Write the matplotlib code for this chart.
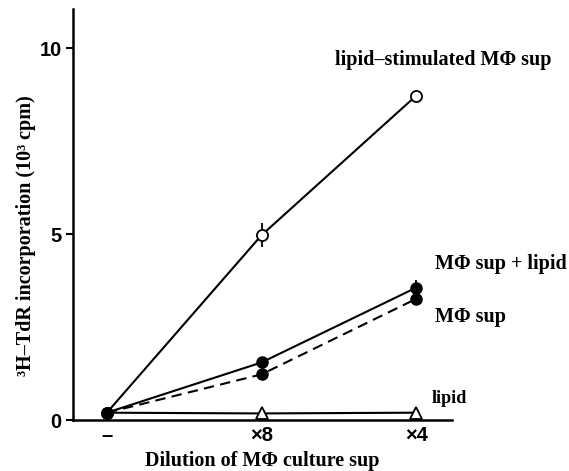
import matplotlib.pyplot as plt

# dilution categories on the x axis
dilutions = ["\u2013", "\u00d78", "\u00d74"]

# 3H-TdR incorporation (10^3 cpm)
lipid_stim_sup = [0.2, 4.97, 8.72]
lipid_stim_err = [0.0, 0.32, 0.0]
sup_plus_lipid = [0.2, 1.55, 3.56]
sup_plus_lipid_err = [0.0, 0.0, 0.2]
sup_only = [0.2, 1.23, 3.26]
lipid_only = [0.2, 0.18, 0.2]

SERIF = ["Liberation Serif", "DejaVu Serif"]
SANS = ["Liberation Sans", "DejaVu Sans"]

fig = plt.figure(figsize=(5.69, 4.71), dpi=100)
ax = fig.add_axes([0.128, 0.108, 0.666, 0.873])

x = list(range(len(dilutions)))
kw = dict(color="black", lw=1.5, markersize=8, clip_on=False, zorder=3)

ax.errorbar(x, lipid_stim_sup, yerr=lipid_stim_err, fmt="-o", mfc="white",
            mec="black", mew=1.3, capsize=0, elinewidth=1.3, **kw)
ax.errorbar(x, sup_plus_lipid, yerr=sup_plus_lipid_err, fmt="-o", mfc="black",
            capsize=0, elinewidth=1.3, **kw)
ax.plot(x, sup_only, "--o", mfc="black", dashes=(5, 3), **kw)
ax.plot(x[1:], lipid_only[1:], "^", mfc="white", mec="black", mew=1.3,
        color="black", markersize=8, clip_on=False, zorder=3)
ax.plot(x, lipid_only, "-", color="black", lw=1.5, zorder=2)

ax.set_xlim(-0.22, 2.23)
ax.set_ylim(0, 11.05)
ax.spines["top"].set_visible(False)
ax.spines["right"].set_visible(False)
ax.spines["left"].set_linewidth(1.8)
ax.spines["bottom"].set_linewidth(1.8)

ax.set_yticks([0, 5, 10])
ax.set_yticklabels(["0", "5", "10"], family=SANS, fontweight="bold", fontsize=14.5)
ax.tick_params(axis="y", direction="out", length=5, width=1.5, pad=3)
ax.set_xticks(x)
ax.set_xticklabels(dilutions, family=SANS, fontweight="bold", fontsize=14.5)
ax.tick_params(axis="x", length=0, pad=4)

fig.text(26 / 569, 1 - 236 / 471,
         "\u00b3H\u2013TdR incorporation (10\u00b3 cpm)", family=SERIF,
         fontweight="bold", fontsize=14.5, rotation=90, ha="center", va="center")
fig.text(262 / 569, 1 - 461 / 471, "Dilution of M\u03a6 culture sup",
         family=SERIF, fontweight="bold", fontsize=14.5, ha="center", va="center")

lab = dict(family=SERIF, fontweight="bold", fontsize=14.5, clip_on=False,
           va="center", ha="left")
ax.text(1.476, 9.68, "lipid\u2013stimulated M\u03a6 sup", **lab)
ax.text(2.12, 4.2, "M\u03a6 sup + lipid", **lab)
ax.text(2.12, 2.78, "M\u03a6 sup", **lab)
ax.text(2.1, 0.59, "lipid", family=SERIF, fontweight="bold", fontsize=13,
        clip_on=False, va="center", ha="left")

fig.savefig("out.png", dpi=100)
